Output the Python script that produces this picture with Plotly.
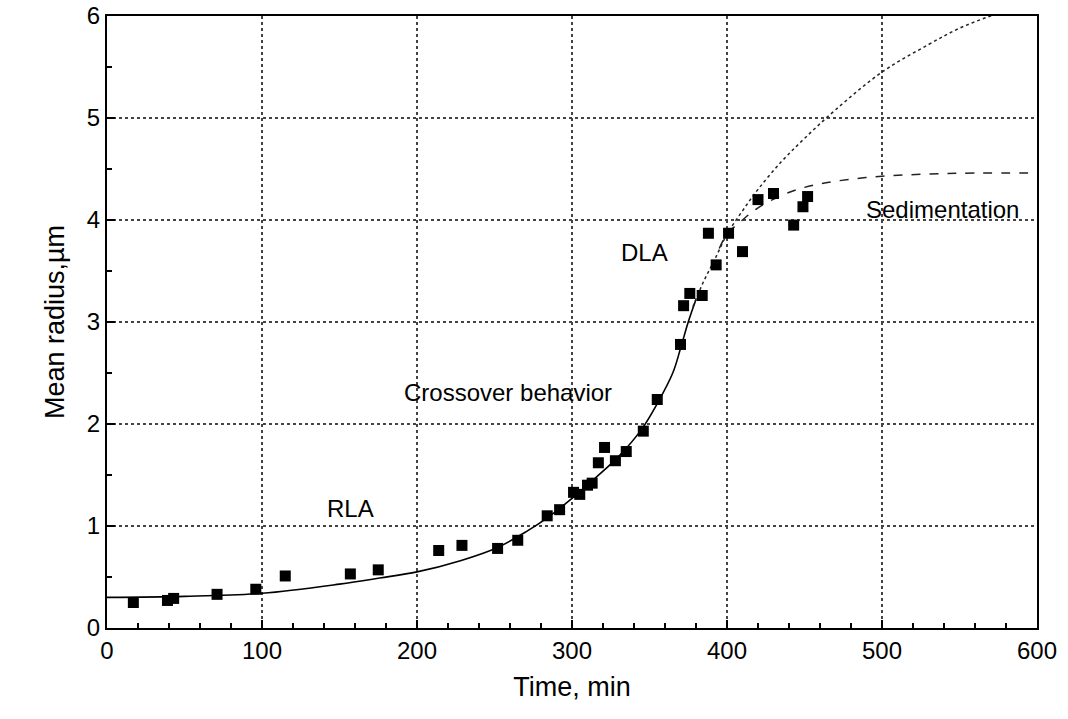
import plotly.graph_objects as go

# Measured data (time in min, mean radius in µm)
time_pts = [17, 39, 43, 71, 96, 115, 157, 175, 214, 229, 252, 265, 284, 292, 301, 305,
            310, 313, 317, 321, 328, 335, 346, 355, 370, 372, 376, 384, 388, 393, 401,
            410, 420, 430, 443, 449, 452]
radius_pts = [0.25, 0.27, 0.29, 0.33, 0.38, 0.51, 0.53, 0.57, 0.76, 0.81, 0.78, 0.86, 1.10, 1.16, 1.33, 1.31,
              1.40, 1.42, 1.62, 1.77, 1.64, 1.73, 1.93, 2.24, 2.78, 3.16, 3.28, 3.26, 3.87, 3.56, 3.87,
              3.69, 4.20, 4.26, 3.95, 4.13, 4.23]

# Fitted curves
fit_x = [0, 50, 100, 150, 176, 200, 228, 252, 271, 284, 300, 315, 330, 345, 355, 365, 370, 375, 380]
fit_y = [0.30, 0.31, 0.34, 0.43, 0.49, 0.55, 0.66, 0.79, 0.95, 1.08, 1.27, 1.47, 1.68, 1.95, 2.20, 2.50, 2.74, 3.00, 3.22]

dla_x = [378, 385, 392, 400, 410, 420, 435, 450, 470, 500, 530, 550, 570, 590]
dla_y = [3.15, 3.40, 3.61, 3.86, 4.09, 4.30, 4.57, 4.80, 5.08, 5.45, 5.72, 5.88, 6.00, 6.10]

sed_x = [395, 400, 410, 420, 435, 450, 470, 500, 530, 560, 600]
sed_y = [3.72, 3.86, 4.00, 4.12, 4.24, 4.32, 4.38, 4.43, 4.45, 4.46, 4.46]

labels = ["RLA", "Crossover behavior", "DLA", "Sedimentation"]
label_x = [157, 259, 347, 539]
label_y = [1.17, 2.31, 3.68, 4.10]

FONT = "Liberation Sans, Arial, sans-serif"

fig = go.Figure()
fig.add_trace(go.Scatter(x=fit_x, y=fit_y, mode="lines", line=dict(color="black", width=1.6, shape="spline"),
                         showlegend=False))
fig.add_trace(go.Scatter(x=dla_x, y=dla_y, mode="lines",
                         line=dict(color="#222", width=1.5, dash="dot", shape="spline"), showlegend=False))
fig.add_trace(go.Scatter(x=sed_x, y=sed_y, mode="lines",
                         line=dict(color="#222", width=1.5, dash="dash", shape="spline"), showlegend=False))
fig.add_trace(go.Scatter(x=time_pts, y=radius_pts, mode="markers",
                         marker=dict(symbol="square", size=11, color="black"), showlegend=False))

for t, x, y in zip(labels, label_x, label_y):
    fig.add_annotation(x=x, y=y, text=t, showarrow=False, font=dict(family=FONT, size=24, color="black"))

axis_common = dict(
    showline=True, linecolor="black", linewidth=2, mirror=True,
    ticks="inside", ticklen=8, tickwidth=2, tickcolor="black",
    showgrid=True, gridcolor="#444", gridwidth=1.5, griddash="dot",
    zeroline=False, automargin=False, ticklabeloverflow="allow",
    tickfont=dict(family=FONT, size=24, color="black"),
)

fig.update_xaxes(range=[0, 600], dtick=100, tick0=0,
                 minor=dict(ticks="inside", dtick=20, ticklen=5, tickwidth=1.5, tickcolor="black", showgrid=False),
                 title=dict(text="Time, min", font=dict(family=FONT, size=27, color="black"), standoff=14),
                 **axis_common)
fig.update_yaxes(range=[0, 6], dtick=1, tick0=0,
                 minor=dict(ticks="inside", dtick=0.5, ticklen=5, tickwidth=1.5, tickcolor="black", showgrid=False),
                 title=dict(text="Mean radius,\u00b5m", font=dict(family=FONT, size=27, color="black"), standoff=14),
                 **axis_common)

fig.update_layout(
    width=1068, height=719,
    margin=dict(l=107, r=31, t=16, b=91),
    plot_bgcolor="white", paper_bgcolor="white",
    font=dict(family=FONT, color="black"),
)

fig.write_html("out.html")
